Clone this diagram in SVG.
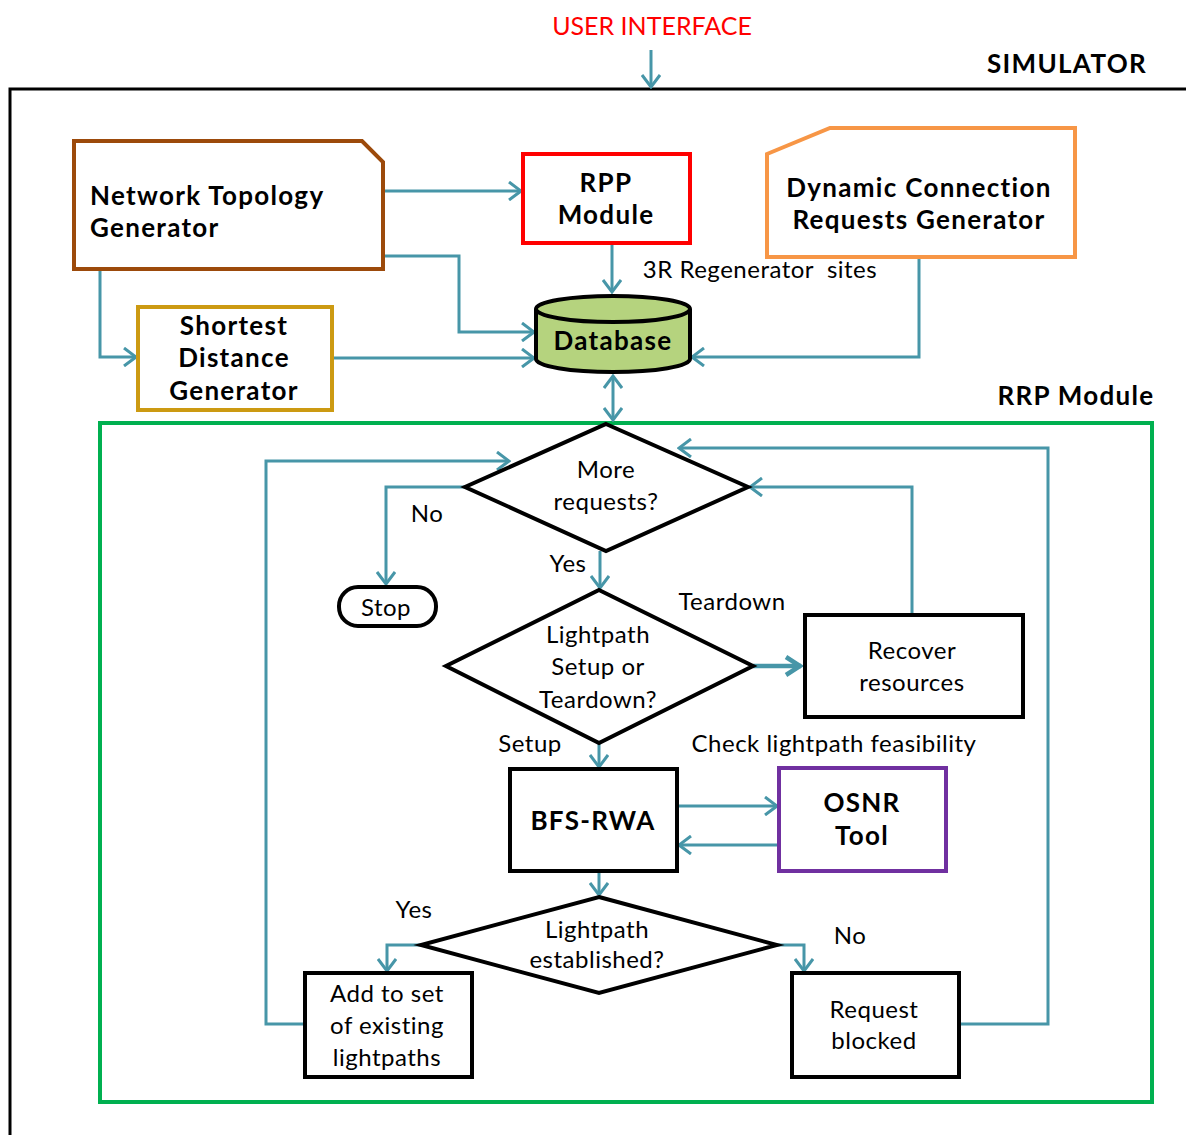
<svg xmlns="http://www.w3.org/2000/svg" width="1186" height="1135" viewBox="0 0 1186 1135">
<style>
.t{font-family:Lato,"Open Sans","Liberation Sans",sans-serif;fill:#000;text-anchor:middle}
.b{font-weight:bold;font-size:26px;letter-spacing:1.3px}
.r{font-size:24px;letter-spacing:0.5px}
.c{fill:none;stroke:#4796A8;stroke-width:3;marker-end:url(#ah)}
.box{fill:#fff;stroke:#000;stroke-width:4}
</style>
<defs>
<marker id="ah" viewBox="0 0 16 20" refX="14" refY="10" markerWidth="16" markerHeight="20" markerUnits="userSpaceOnUse" orient="auto-start-reverse">
<path d="M2,1 L14,10 L2,19" fill="none" stroke="#4796A8" stroke-width="3"/>
</marker>
<marker id="ah2" viewBox="0 0 20 22" refX="18" refY="11" markerWidth="20" markerHeight="22" markerUnits="userSpaceOnUse" orient="auto">
<path d="M3,2 L17,11 L3,20" fill="none" stroke="#4796A8" stroke-width="4.5"/>
</marker>
</defs>
<rect width="1186" height="1135" fill="#fff"/>

<g id="simulator">
<path d="M10,1135 V89 H1186" fill="none" stroke="#000" stroke-width="3"/>
<text class="t b" x="1067" y="73">SIMULATOR</text>
</g>
<text class="t" x="652" y="35" font-size="25" style="fill:#FF0000">USER INTERFACE</text>

<g id="rrp-module">
<rect x="100" y="423" width="1052" height="679" fill="none" stroke="#00B050" stroke-width="4"/>
<text class="t b" x="1076" y="405">RRP Module</text>
</g>

<g id="connectors">
<path class="c" d="M651,50 V87"/>
<path class="c" d="M383,191 H521"/>
<path class="c" d="M383,256 H459 V332 H534"/>
<path class="c" d="M100,269 V357 H136"/>
<path class="c" d="M332,358 H534"/>
<path class="c" d="M612,245 V292"/>
<path class="c" d="M919,257 V357 H692"/>
<path class="c" d="M613,376 V420" style="marker-start:url(#ah)"/>
<path class="c" d="M305,1024 H266 V461 H509"/>
<path class="c" d="M465,487 H386 V584"/>
<path class="c" d="M600,551 V588"/>
<path class="c" d="M912,614 V487 H750"/>
<path class="c" d="M960,1024 H1048 V448 H679"/>
<path d="M753,666 H801" fill="none" stroke="#4796A8" stroke-width="4.5" marker-end="url(#ah2)"/>
<path class="c" d="M599,743 V767"/>
<path class="c" d="M677,806 H777"/>
<path class="c" d="M779,845 H679"/>
<path class="c" d="M599,871 V895"/>
<path class="c" d="M421,945 H387 V971"/>
<path class="c" d="M777,945 H804 V971"/>
</g>

<g id="network-topology-generator">
<path d="M74,141 H362 L383,162 V269 H74 Z" fill="#fff" stroke="#9C4A0B" stroke-width="4"/>
<text class="t b" x="90" y="205" style="text-anchor:start">Network Topology</text>
<text class="t b" x="90" y="237" style="text-anchor:start">Generator</text>
</g>

<g id="rpp-module">
<rect x="523" y="154" width="167" height="89" fill="#fff" stroke="#FF0000" stroke-width="4"/>
<text class="t b" x="606" y="192">RPP</text>
<text class="t b" x="606" y="224">Module</text>
</g>

<g id="dynamic-connection-requests-generator">
<path d="M767,154 L830,128 H1075 V257 H767 Z" fill="#fff" stroke="#F79646" stroke-width="4"/>
<text class="t b" x="919" y="197">Dynamic Connection</text>
<text class="t b" x="919" y="229">Requests Generator</text>
</g>

<text class="t r" x="760" y="278" xml:space="preserve" style="white-space:pre">3R Regenerator  sites</text>

<g id="shortest-distance-generator">
<rect x="138" y="307" width="194" height="103" fill="#fff" stroke="#CC9A12" stroke-width="4"/>
<text class="t b" x="234" y="335">Shortest</text>
<text class="t b" x="234" y="367">Distance</text>
<text class="t b" x="234" y="400">Generator</text>
</g>

<g id="database">
<path d="M536,309 V359 A77,13 0 0 0 690,359 V309" fill="#B5D37E" stroke="#000" stroke-width="4"/>
<ellipse cx="613" cy="309" rx="77" ry="13" fill="#B5D37E" stroke="#000" stroke-width="4"/>
<text class="t b" x="613" y="350">Database</text>
</g>

<g id="more-requests">
<polygon points="606,424 748,487 606,551 465,487" fill="#fff" stroke="#000" stroke-width="4"/>
<text class="t r" x="606" y="478">More</text>
<text class="t r" x="606" y="510">requests?</text>
</g>
<text class="t r" x="427" y="522">No</text>

<g id="stop">
<rect x="339" y="587" width="97" height="39" rx="19" fill="#fff" stroke="#000" stroke-width="4"/>
<text class="t r" x="386" y="616">Stop</text>
</g>
<text class="t r" x="568" y="572">Yes</text>

<g id="setup-or-teardown">
<polygon points="599,590 753,666 599,743 446,666" fill="#fff" stroke="#000" stroke-width="4"/>
<text class="t r" x="598" y="643">Lightpath</text>
<text class="t r" x="598" y="675">Setup or</text>
<text class="t r" x="598" y="708">Teardown?</text>
</g>
<text class="t r" x="732" y="610">Teardown</text>

<g id="recover-resources">
<rect x="805" y="615" width="218" height="102" class="box"/>
<text class="t r" x="912" y="659">Recover</text>
<text class="t r" x="912" y="691">resources</text>
</g>

<text class="t r" x="530" y="752">Setup</text>
<text class="t r" x="834" y="752">Check lightpath feasibility</text>

<g id="bfs-rwa">
<rect x="510" y="769" width="167" height="102" class="box"/>
<text class="t b" x="593" y="830">BFS-RWA</text>
</g>

<g id="osnr-tool">
<rect x="779" y="768" width="167" height="103" fill="#fff" stroke="#7030A0" stroke-width="4"/>
<text class="t b" x="862" y="812">OSNR</text>
<text class="t b" x="862" y="845">Tool</text>
</g>

<g id="lightpath-established">
<polygon points="599,897 777,945 599,993 421,945" fill="#fff" stroke="#000" stroke-width="4"/>
<text class="t r" x="597" y="938">Lightpath</text>
<text class="t r" x="597" y="968">established?</text>
</g>
<text class="t r" x="414" y="918">Yes</text>
<text class="t r" x="850" y="944">No</text>

<g id="add-to-set">
<rect x="305" y="973" width="167" height="104" class="box"/>
<text class="t r" x="387" y="1002">Add to set</text>
<text class="t r" x="387" y="1034">of existing</text>
<text class="t r" x="387" y="1066">lightpaths</text>
</g>

<g id="request-blocked">
<rect x="792" y="973" width="167" height="104" class="box"/>
<text class="t r" x="874" y="1018">Request</text>
<text class="t r" x="874" y="1049">blocked</text>
</g>
</svg>
